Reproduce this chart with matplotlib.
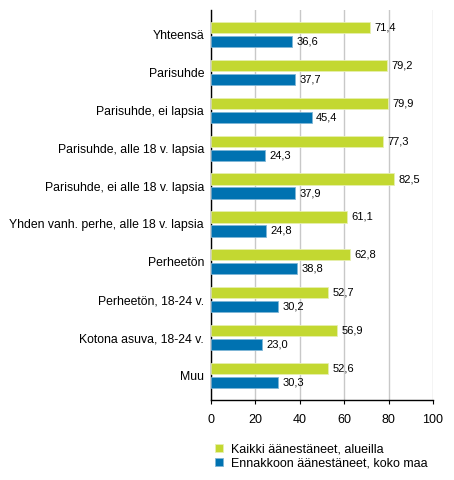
import matplotlib
matplotlib.use("Agg")
import matplotlib.pyplot as plt
import numpy as np

plt.rcParams['font.family'] = ['Liberation Sans', 'DejaVu Sans']

categories = ["Yhteensä", "Parisuhde", "Parisuhde, ei lapsia", "Parisuhde, alle 18 v. lapsia",
              "Parisuhde, ei alle 18 v. lapsia", "Yhden vanh. perhe, alle 18 v. lapsia",
              "Perheetön", "Perheetön, 18-24 v.", "Kotona asuva, 18-24 v.", "Muu"]
kaikki = [71.4, 79.2, 79.9, 77.3, 82.5, 61.1, 62.8, 52.7, 56.9, 52.6]
ennakko = [36.6, 37.7, 45.4, 24.3, 37.9, 24.8, 38.8, 30.2, 23.0, 30.3]
series_names = ["Kaikki äänestäneet, alueilla", "Ennakkoon äänestäneet, koko maa"]
xticks = [0, 20, 40, 60, 80, 100]

green = "#c3d831"
blue = "#0072b1"

fig = plt.figure(figsize=(4.54, 4.80), dpi=100)
ax = fig.add_axes([211/454, 1-400/480, 222/454, 390/480])

y = np.arange(len(categories))
h = 0.30
off = 0.185
b1 = ax.barh(y - off, kaikki, height=h, color=green, edgecolor="#e6efb0", linewidth=0.6, zorder=3,
             label=series_names[0])
b2 = ax.barh(y + off, ennakko, height=h, color=blue, edgecolor="#7fb6d6", linewidth=0.6, zorder=3,
             label=series_names[1])

fs = 8.0
for yi, v in zip(y - off, kaikki):
    ax.text(v + 2.0, yi, f"{v:.1f}".replace(".", ","), va="center", ha="left", fontsize=fs, zorder=4)
for yi, v in zip(y + off, ennakko):
    ax.text(v + 2.0, yi, f"{v:.1f}".replace(".", ","), va="center", ha="left", fontsize=fs, zorder=4)

ax.set_ylim(len(categories) - 1 + 0.65, -0.65)
ax.set_xlim(0, 100)
ax.set_yticks(y)
ax.set_yticklabels(categories, fontsize=8.8)
ax.set_xticks(xticks)
ax.set_xticklabels([str(t) for t in xticks], fontsize=9)
ax.tick_params(axis="y", length=0, pad=5)
ax.tick_params(axis="x", length=3, width=0.8, color="black", pad=7)

ax.xaxis.grid(True, color="#c8c8c8", linewidth=1.0, zorder=0)
ax.set_axisbelow(True)
for s in ["top", "right"]:
    ax.spines[s].set_visible(False)
ax.spines["left"].set_color("black")
ax.spines["bottom"].set_color("black")
ax.spines["left"].set_linewidth(1.0)
ax.spines["bottom"].set_linewidth(1.0)

leg = fig.legend(handles=[b1, b2], labels=series_names, loc="upper left",
                 bbox_to_anchor=(215/454, 1-443/480), frameon=False, fontsize=9,
                 handlelength=0.6, handleheight=0.6, handletextpad=0.7, labelspacing=0.2,
                 borderpad=0, borderaxespad=0)

fig.savefig("out.png", dpi=100)
